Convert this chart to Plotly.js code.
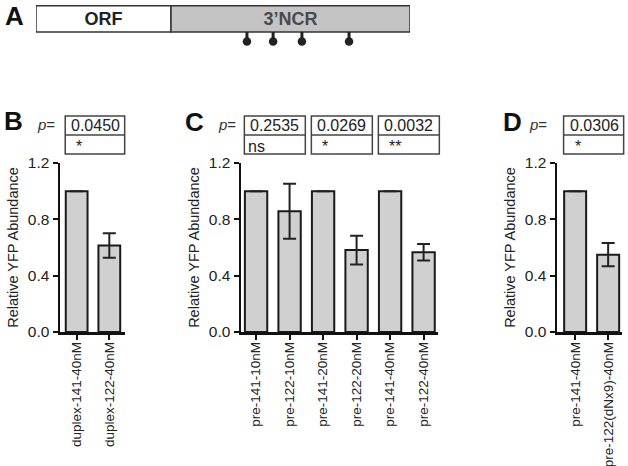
<!DOCTYPE html>
<html>
<head>
<meta charset="utf-8">
<script src="https://cdn.plot.ly/plotly-3.0.1.min.js"></script>
<style>html,body{margin:0;padding:0;background:#fff;}#chart{width:628px;height:466px;}</style>
</head>
<body>
<div id="chart"></div>
<script>
// ---------- data ----------
// Panel A schematic (arbitrary transcript units)
const regionNames = ['ORF', '3\u2019NCR'];
const regionStart = [0, 36.1];
const regionLength = [36.1, 63.9];
const siteRows = [0, 0, 0, 0];
const sitePositions = [56.4, 63.4, 71.1, 83.7];

// Panel B
const catsB = ['duplex-141-40nM', 'duplex-122-40nM'];
const valsB = [1.0, 0.615];
const errB = [0, 0.087];
const pB = ['0.0450'];
const sigB = ['*'];

// Panel C
const catsC = ['pre-141-10nM', 'pre-122-10nM', 'pre-141-20nM', 'pre-122-20nM', 'pre-141-40nM', 'pre-122-40nM'];
const valsC = [1.0, 0.858, 1.0, 0.582, 1.0, 0.566];
const errC = [0, 0.195, 0, 0.102, 0, 0.058];
const pC = ['0.2535', '0.0269', '0.0032'];
const sigC = ['ns', '*', '**'];

// Panel D
const catsD = ['pre-141-40nM', 'pre-122(dNx9)-40nM'];
const valsD = [1.0, 0.549];
const errD = [0, 0.083];
const pD = ['0.0306'];
const sigD = ['*'];

const yTicks = [0, 0.4, 0.8, 1.2];
const yTickText = ['0.0', '0.4', '0.8', '1.2'];

// ---------- layout helpers ----------
const W = 628, H = 466;
const FONT = 'Liberation Sans, Arial, sans-serif';
const INK = '#222';
const px = v => v / W;
const py = v => 1 - v / H;

const yDomain = [py(332), py(163)];

const panels = [
  {x: 'x', y: 'y', cats: catsB, vals: valsB, err: errB, p: pB, sig: sigB, dom: [px(60), px(125)], range: [-0.51, 1.48]},
  {x: 'x2', y: 'y2', cats: catsC, vals: valsC, err: errC, p: pC, sig: sigC, dom: [px(241), px(438)], range: [-0.45, 5.43]},
  {x: 'x3', y: 'y3', cats: catsD, vals: valsD, err: errD, p: pD, sig: sigD, dom: [px(557), px(622)], range: [-0.55, 1.42]}
];

const data = [];
const layout = {
  width: W, height: H,
  margin: {l: 0, r: 0, t: 0, b: 0},
  paper_bgcolor: '#fff', plot_bgcolor: '#fff',
  showlegend: false,
  bargap: 0.333,
  font: {family: FONT, color: INK},
  shapes: [],
  annotations: []
};

function xAxis(p, anchor) {
  return {
    domain: p.dom, range: p.range, type: 'category', anchor: anchor,
    showline: true, linecolor: '#111', linewidth: 2.5,
    ticks: 'outside', ticklen: 5, tickwidth: 2, tickcolor: '#111',
    tickangle: -90, tickfont: {family: FONT, size: 13.5, color: INK},
    ticklabelstandoff: -3,
    showgrid: false, zeroline: false, automargin: false, fixedrange: true
  };
}
function yAxis(anchor) {
  return {
    domain: yDomain, range: [0, 1.2], anchor: anchor,
    tickvals: yTicks, ticktext: yTickText,
    showline: true, linecolor: '#111', linewidth: 2.5,
    ticks: 'outside', ticklen: 5, tickwidth: 2, tickcolor: '#111',
    tickfont: {family: FONT, size: 15.5, color: INK},
    title: {text: 'Relative YFP Abundance', font: {family: FONT, size: 14.5, color: INK}, standoff: 6},
    showgrid: false, zeroline: false, automargin: false, fixedrange: true
  };
}

const boxTop = py(116), boxMid = py(135), boxBot = py(154);

panels.forEach((p, i) => {
  const xk = i === 0 ? 'xaxis' : 'xaxis' + (i + 1);
  const yk = i === 0 ? 'yaxis' : 'yaxis' + (i + 1);
  layout[xk] = xAxis(p, p.y);
  layout[yk] = yAxis(p.x);
  data.push({
    type: 'bar', x: p.cats, y: p.vals, xaxis: p.x, yaxis: p.y,
    marker: {color: '#d0d0d0', line: {color: '#1a1a1a', width: 2}},
    error_y: {type: 'data', array: p.err, visible: true, color: '#222', thickness: 2, width: 6.5},
    hoverinfo: 'none'
  });
  // p-value boxes: one per pair of bars
  const span = p.range[1] - p.range[0];
  const frac = v => (v - p.range[0]) / span;
  p.p.forEach((pv, k) => {
    const a = frac(2 * k - 0.35), b = frac(2 * k + 1 + 0.47);
    const xr = p.x + ' domain';
    layout.shapes.push({type: 'rect', xref: xr, yref: 'paper', x0: a, x1: b, y0: boxBot, y1: boxTop,
      line: {color: '#444', width: 1.5}, fillcolor: 'rgba(0,0,0,0)'});
    layout.shapes.push({type: 'line', xref: xr, yref: 'paper', x0: a, x1: b, y0: boxMid, y1: boxMid,
      line: {color: '#444', width: 1.5}});
    layout.annotations.push({xref: xr, yref: 'paper', x: a, y: py(125.5), xanchor: 'left', yanchor: 'middle',
      xshift: 4, text: pv, showarrow: false, font: {family: FONT, size: 16, color: INK}});
    const s = p.sig[k];
    layout.annotations.push({xref: xr, yref: 'paper', x: a, y: py(146), xanchor: 'left', yanchor: 'middle',
      xshift: s === 'ns' ? 2 : 9, text: s, showarrow: false, font: {family: FONT, size: 16, color: INK}});
  });
});

// "p=" labels and panel letters
[[35, 'B'], [216, 'C'], [527, 'D']].forEach(([xp]) => {
  layout.annotations.push({xref: 'paper', yref: 'paper', x: px(xp), y: py(125), xanchor: 'left', yanchor: 'middle',
    text: '<i>p</i>=', showarrow: false, font: {family: FONT, size: 15, color: '#333'}});
});
[['A', 3, 16], ['B', 2, 121], ['C', 183, 122], ['D', 501, 122]].forEach(([t, xp, yp]) => {
  layout.annotations.push({xref: 'paper', yref: 'paper', x: px(xp), y: py(yp), xanchor: 'left', yanchor: 'middle',
    text: '<b>' + t + '</b>', showarrow: false, font: {family: FONT, size: 26, color: '#111'}});
});

// ---------- Panel A schematic ----------
layout.xaxis4 = {domain: [px(36), px(410)], range: [0, 100], anchor: 'y4', visible: false, fixedrange: true};
layout.yaxis4 = {domain: [py(50), py(2)], range: [-1.184, 0.641], anchor: 'x4', visible: false, fixedrange: true};
data.push({
  type: 'bar', orientation: 'h', xaxis: 'x4', yaxis: 'y4',
  y: siteRows.slice(0, regionNames.length), x: regionLength, base: regionStart, width: [1, 1],
  marker: {color: ['#ffffff', '#c4c4c4'], line: {color: '#333', width: 1.5}},
  text: regionNames.map(t => '<b>' + t + '</b>'), textposition: 'inside', insidetextanchor: 'middle',
  textfont: {family: FONT, size: 18, color: ['#222', '#4a4a4a']},
  textangle: 0, constraintext: 'none', hoverinfo: 'none'
});
data.push({
  type: 'scatter', mode: 'markers', xaxis: 'x4', yaxis: 'y4', cliponaxis: false,
  x: sitePositions, y: siteRows.map(r => r - 0.861),
  marker: {symbol: 'circle', size: 8.5, color: '#222'},
  error_y: {type: 'data', symmetric: false, array: siteRows.map(() => 0.361), arrayminus: siteRows.map(() => 0),
    color: '#222', thickness: 3, width: 0, visible: true},
  hoverinfo: 'none'
});

Plotly.newPlot('chart', data, layout, {staticPlot: true, displayModeBar: false});
</script>
</body>
</html>
